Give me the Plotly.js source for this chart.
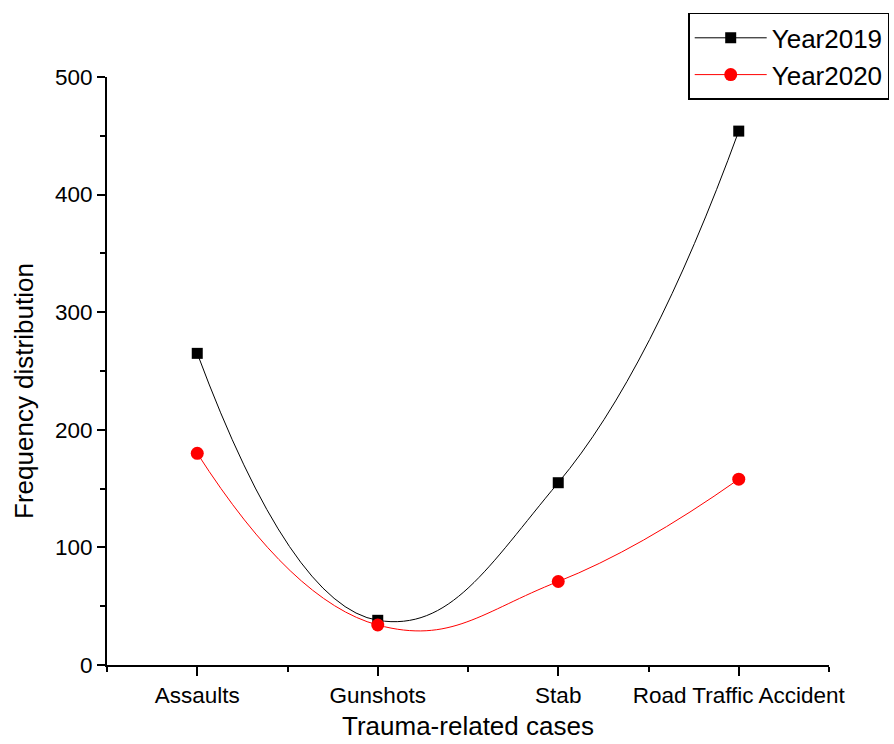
<!DOCTYPE html>
<html>
<head>
<meta charset="utf-8">
<script src="https://cdn.plot.ly/plotly-3.0.1.min.js"></script>
<style>html,body{margin:0;padding:0;background:#fff;}#chart{width:894px;height:744px;}</style>
</head>
<body>
<div id="chart"></div>
<script>
const categories = ["Assaults", "Gunshots", "Stab", "Road Traffic Accident"];
const year2019 = [265, 38, 155, 454];
const year2020 = [180, 34, 71, 158];
const seriesNames = ["Year2019", "Year2020"];
const xTitle = "Trauma-related cases";
const yTitle = "Frequency distribution";

const idx = categories.map((c, i) => i);
const font = "Liberation Sans, Arial, sans-serif";

const traces = [
  {
    x: idx, y: year2019, name: seriesNames[0], type: "scatter", mode: "lines+markers",
    line: {color: "#000000", width: 1, shape: "spline", smoothing: 1.3},
    marker: {symbol: "square", size: 11, color: "#000000"}
  },
  {
    x: idx, y: year2020, name: seriesNames[1], type: "scatter", mode: "lines+markers",
    line: {color: "#ff0000", width: 1, shape: "spline", smoothing: 1.3},
    marker: {symbol: "circle", size: 13, color: "#ff0000"}
  }
];

const layout = {
  width: 894, height: 744,
  margin: {l: 107, r: 65, t: 77, b: 79, autoexpand: false},
  paper_bgcolor: "#ffffff", plot_bgcolor: "#ffffff",
  font: {family: font, color: "#000000", size: 22},
  showlegend: true,
  legend: {
    x: 0.805, y: 1.109, xanchor: "left", yanchor: "top",
    bordercolor: "#000000", borderwidth: 1.5, bgcolor: "#ffffff",
    font: {family: font, size: 26, color: "#000000"},
    itemwidth: 72, tracegroupgap: 0
  },
  xaxis: {
    range: [-0.5, 3.5], tickmode: "array", tickvals: idx, ticktext: categories,
    showgrid: false, zeroline: false, showline: true, linecolor: "#000000", linewidth: 2,
    ticks: "outside", ticklen: 9, tickwidth: 2, tickcolor: "#000000",
    tickfont: {family: font, size: 22.5, color: "#000000"},
    minor: {tickvals: [-0.5, 0.5, 1.5, 2.5, 3.5], ticks: "outside", ticklen: 5, tickwidth: 2, tickcolor: "#000000", showgrid: false}
  },
  yaxis: {
    range: [0, 500], dtick: 100, tick0: 0,
    showgrid: false, zeroline: false, showline: true, linecolor: "#000000", linewidth: 2,
    ticks: "outside", ticklen: 8, tickwidth: 2, tickcolor: "#000000",
    tickfont: {family: font, size: 22.5, color: "#000000"},
    minor: {dtick: 50, ticks: "outside", ticklen: 5, tickwidth: 2, tickcolor: "#000000", showgrid: false}
  },
  annotations: [
    {text: xTitle, xref: "paper", yref: "paper", x: 0.5, y: -0.104, xanchor: "center", yanchor: "middle",
     showarrow: false, font: {family: font, size: 26, color: "#000000"}},
    {text: yTitle, xref: "paper", yref: "paper", x: -0.115, y: 0.466, xanchor: "center", yanchor: "middle",
     textangle: -90, showarrow: false, font: {family: font, size: 26, color: "#000000"}}
  ]
};

Plotly.newPlot("chart", traces, layout, {displayModeBar: false, staticPlot: true});
</script>
</body>
</html>
